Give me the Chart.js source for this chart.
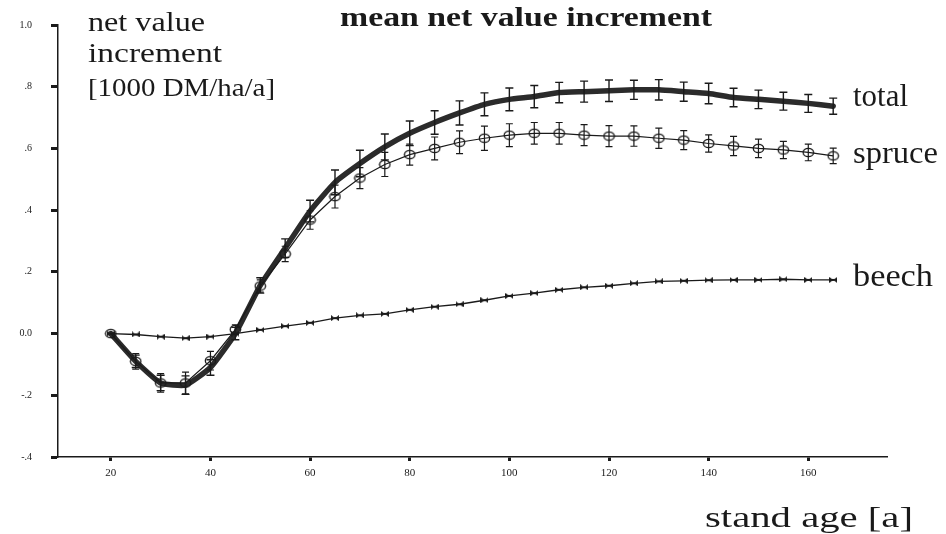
<!DOCTYPE html>
<html>
<head>
<meta charset="utf-8">
<script src="https://cdn.jsdelivr.net/npm/chart.js@4.4.1/dist/chart.umd.min.js"></script>
<style>
    html, body { margin: 0; padding: 0; background: #fff; }
    #wrap { width: 946px; height: 534px; }
</style>
</head>
<body>
<div id="wrap"><canvas id="grafico" width="946" height="534"></canvas></div>
<script>

// ===========================
// Dados
// ===========================
const idades = [20, 25, 30, 35, 40, 45, 50, 55, 60, 65,
                70, 75, 80, 85, 90, 95, 100, 105, 110, 115,
                120, 125, 130, 135, 140, 145, 150, 155, 160, 165];

const total = [0.000, -0.090, -0.160, -0.167, -0.110, 0.000, 0.156, 0.277, 0.397, 0.490,
               0.551, 0.605, 0.649, 0.684, 0.715, 0.743, 0.759, 0.768, 0.781, 0.784,
               0.787, 0.790, 0.790, 0.784, 0.778, 0.765, 0.759, 0.753, 0.746, 0.737];

const spruce = [0.000, -0.090, -0.160, -0.160, -0.088, 0.013, 0.154, 0.258, 0.368, 0.444,
                0.504, 0.548, 0.580, 0.600, 0.620, 0.633, 0.643, 0.649, 0.649, 0.643,
                0.640, 0.640, 0.633, 0.627, 0.616, 0.608, 0.600, 0.595, 0.587, 0.576];

const beech = [0.000, -0.003, -0.010, -0.015, -0.010, 0.000, 0.012, 0.024, 0.035, 0.050,
               0.059, 0.064, 0.077, 0.087, 0.095, 0.108, 0.122, 0.131, 0.142, 0.150,
               0.155, 0.163, 0.169, 0.171, 0.173, 0.174, 0.174, 0.176, 0.174, 0.174];

// half-length of the error bars
const totalErr = [0, 0.020, 0.025, 0.030, 0.025, 0.020, 0.025, 0.030, 0.035, 0.040,
                  0.043, 0.042, 0.040, 0.038, 0.039, 0.037, 0.037, 0.036, 0.033, 0.034,
                  0.035, 0.031, 0.033, 0.031, 0.033, 0.030, 0.030, 0.029, 0.029, 0.026];

const spruceErr = [0, 0.025, 0.030, 0.035, 0.030, 0.015, 0.020, 0.025, 0.030, 0.037,
                   0.034, 0.039, 0.034, 0.037, 0.037, 0.039, 0.037, 0.035, 0.035, 0.034,
                   0.034, 0.033, 0.033, 0.031, 0.028, 0.031, 0.030, 0.028, 0.027, 0.025];

const yTicks = [-0.4, -0.2, 0.0, 0.2, 0.4, 0.6, 0.8, 1.0];
const yTickLabels = ["-.4", "-.2", "0.0", ".2", ".4", ".6", ".8", "1.0"];
const xTicks = [20, 40, 60, 80, 100, 120, 140, 160];

const SERIF = '"Liberation Serif", "DejaVu Serif", serif';
const INK = '#1a1a1a';

// ===========================
// Marcadores
// ===========================
function marcadorBeech() {
    const c = document.createElement('canvas');
    c.width = 8;
    c.height = 6;
    const g = c.getContext('2d');
    g.fillStyle = INK;
    g.beginPath();
    g.moveTo(0, 0); g.lineTo(4, 3); g.lineTo(0, 6); g.closePath();
    g.moveTo(8, 0); g.lineTo(4, 3); g.lineTo(8, 6); g.closePath();
    g.fill();
    g.fillRect(3, 2, 2, 2);
    return c;
}

function marcadorSpruce() {
    const c = document.createElement('canvas');
    c.width = 13;
    c.height = 11;
    const g = c.getContext('2d');
    g.strokeStyle = INK;
    g.lineWidth = 1.3;
    g.beginPath();
    g.ellipse(6.5, 5.5, 5.2, 4.2, 0, 0, Math.PI * 2);
    g.stroke();
    return c;
}

// ===========================
// Texto
// ===========================
function texto(ctx, str, x, y, size, bold, largura) {
    ctx.save();
    ctx.font = `${bold ? 'bold ' : ''}${size}px ${SERIF}`;
    ctx.fillStyle = INK;
    ctx.textAlign = 'left';
    ctx.textBaseline = 'alphabetic';
    const w = ctx.measureText(str).width;
    const sx = largura ? largura / w : 1;
    ctx.translate(x, y);
    ctx.scale(sx, 1);
    ctx.fillText(str, 0, 0);
    ctx.restore();
}

// ===========================
// Plugins
// ===========================
const barrasErro = {
    id: 'barrasErro',
    afterDatasetsDraw(chart) {
        const ctx = chart.ctx;
        const xs = chart.scales.x;
        const ys = chart.scales.y;
        const series = [
            { valores: spruce, erros: spruceErr, cap: 3.5, lw: 1.2 },
            { valores: total, erros: totalErr, cap: 4, lw: 1.4 }
        ];
        ctx.save();
        ctx.strokeStyle = INK;
        series.forEach(s => {
            ctx.lineWidth = s.lw;
            s.valores.forEach((v, i) => {
                const e = s.erros[i];
                if (!e) return;
                const x = xs.getPixelForValue(idades[i]);
                const y1 = ys.getPixelForValue(v + e);
                const y2 = ys.getPixelForValue(v - e);
                ctx.beginPath();
                ctx.moveTo(x, y1); ctx.lineTo(x, y2);
                ctx.moveTo(x - s.cap, y1); ctx.lineTo(x + s.cap, y1);
                ctx.moveTo(x - s.cap, y2); ctx.lineTo(x + s.cap, y2);
                ctx.stroke();
            });
        });
        ctx.restore();
    }
};

const textos = {
    id: 'textos',
    afterDraw(chart) {
        const ctx = chart.ctx;
        texto(ctx, 'mean net value increment', 340, 26, 28, true, 372);
        texto(ctx, 'net value', 88, 31, 28, false, 117);
        texto(ctx, 'increment', 88, 62, 28, false, 134);
        texto(ctx, '[1000 DM/ha/a]', 88, 96, 25, false, 187);
        texto(ctx, 'stand age [a]', 705, 527, 30, false, 208);
        texto(ctx, 'total', 853, 106, 32, false, 55);
        texto(ctx, 'spruce', 853, 163, 32, false, 85);
        texto(ctx, 'beech', 853, 286, 32, false, 80);
    }
};

// ===========================
// Gráfico
// ===========================
const pontos = arr => arr.map((v, i) => ({ x: idades[i], y: v }));

const ctx = document.getElementById('grafico').getContext('2d');

new Chart(ctx, {
    type: 'line',
    data: {
        datasets: [
            {
                label: 'beech',
                data: pontos(beech),
                borderColor: INK,
                borderWidth: 1.3,
                pointStyle: marcadorBeech(),
                pointRadius: 4,
                tension: 0
            },
            {
                label: 'spruce',
                data: pontos(spruce),
                borderColor: INK,
                borderWidth: 1.2,
                pointStyle: marcadorSpruce(),
                pointRadius: 5,
                tension: 0
            },
            {
                label: 'total',
                data: pontos(total),
                borderColor: '#2b2b2b',
                borderWidth: 5.5,
                borderJoinStyle: 'round',
                borderCapStyle: 'round',
                pointRadius: 0,
                tension: 0.15
            }
        ]
    },
    options: {
        responsive: false,
        animation: false,
        devicePixelRatio: 1,
        events: [],
        layout: {
            padding: { left: 0, top: 10, right: 59, bottom: 0 }
        },
        plugins: {
            legend: { display: false },
            tooltip: { enabled: false }
        },
        scales: {
            x: {
                type: 'linear',
                min: 9.4,
                max: 175.8,
                afterFit: s => { s.height = 77; },
                afterBuildTicks: s => { s.ticks = xTicks.map(v => ({ value: v })); },
                border: { display: true, color: INK, width: 1.5 },
                grid: {
                    drawOnChartArea: false,
                    drawTicks: true,
                    tickLength: 4,
                    tickWidth: 3,
                    tickColor: INK
                },
                ticks: {
                    padding: 6,
                    maxRotation: 0,
                    color: INK,
                    font: { family: SERIF, size: 11 }
                }
            },
            y: {
                type: 'linear',
                min: -0.4,
                max: 1.0,
                afterFit: s => { s.width = 58; },
                afterBuildTicks: s => { s.ticks = yTicks.map(v => ({ value: v })); },
                border: { display: true, color: INK, width: 1.5 },
                grid: {
                    drawOnChartArea: false,
                    drawTicks: true,
                    tickLength: 7,
                    tickWidth: 3,
                    tickColor: INK
                },
                ticks: {
                    padding: 19,
                    color: INK,
                    font: { family: SERIF, size: 10 },
                    callback: (v) => {
                        const i = yTicks.findIndex(t => Math.abs(t - v) < 1e-6);
                        return i >= 0 ? yTickLabels[i] : '';
                    }
                }
            }
        }
    },
    plugins: [barrasErro, textos]
});

</script>
</body>
</html>
